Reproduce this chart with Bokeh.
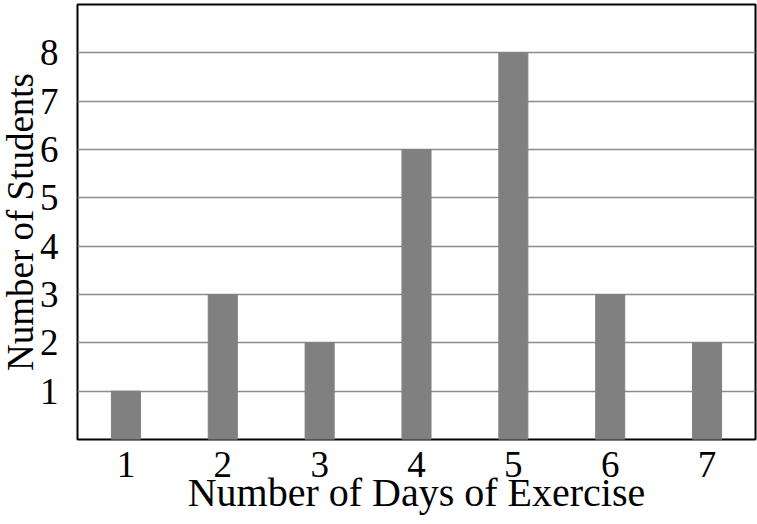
from bokeh.plotting import figure
from bokeh.models import FixedTicker, Range1d
from bokeh.embed import file_html
from bokeh.resources import INLINE

days = [1, 2, 3, 4, 5, 6, 7]
students = [1, 3, 2, 6, 8, 3, 2]
x_ticks = [1, 2, 3, 4, 5, 6, 7]
y_ticks = [1, 2, 3, 4, 5, 6, 7, 8]
x_title = "Number of Days of Exercise"
y_title = "Number of Students"

FONT = "Liberation Serif"

p = figure(width=761, height=528, output_backend="svg", toolbar_location=None,
           x_range=Range1d(0.5, 7.5), y_range=Range1d(0, 9),
           min_border_left=81, min_border_right=2, min_border_top=8, min_border_bottom=85)
p.styles = {"margin": "-4px"}

p.vbar(x=days, top=students, width=0.3, color="#808080", line_color="#808080")

p.outline_line_color = "black"
p.outline_line_width = 2
p.background_fill_color = "white"
p.border_fill_color = "white"

p.xgrid.grid_line_color = None
p.ygrid.grid_line_color = "#8c8c8c"
p.ygrid.grid_line_width = 1.5
p.ygrid.level = "underlay"

p.xaxis.ticker = FixedTicker(ticks=x_ticks)
p.yaxis.ticker = FixedTicker(ticks=y_ticks)

for ax in (p.xaxis[0], p.yaxis[0]):
    ax.axis_line_color = None
    ax.major_tick_line_color = None
    ax.minor_tick_line_color = None
    ax.major_label_text_font = FONT
    ax.major_label_text_font_size = "37px"
    ax.major_label_text_color = "black"
    ax.axis_label_text_font = FONT
    ax.axis_label_text_font_style = "normal"
    ax.axis_label_text_color = "black"

p.xaxis.axis_label_text_font_size = "40px"
p.yaxis.axis_label_text_font_size = "37px"
p.xaxis.axis_label = x_title
p.yaxis.axis_label = y_title
p.xaxis.major_label_standoff = 6
p.xaxis.axis_label_standoff = -10
p.yaxis.major_label_standoff = 13
p.yaxis.axis_label_standoff = -4

open("out.html", "w").write(file_html(p, INLINE))
